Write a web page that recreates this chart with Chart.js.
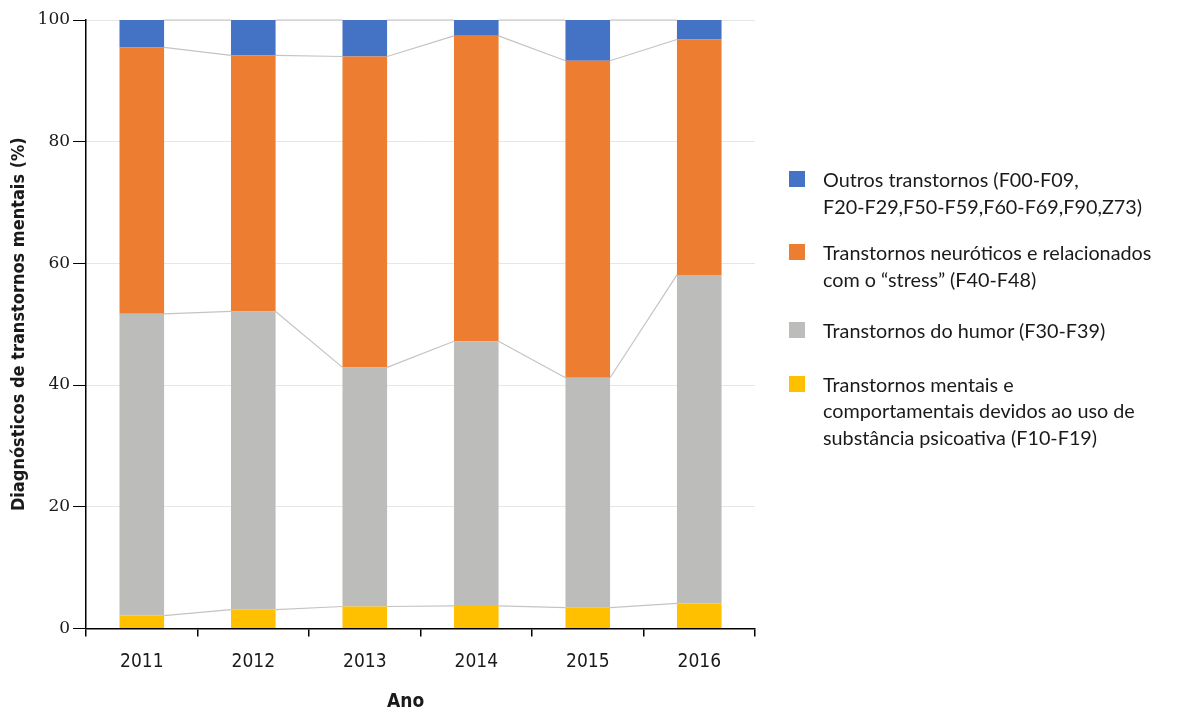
<!DOCTYPE html>
<html><head><meta charset="utf-8">
<script src="https://cdn.jsdelivr.net/npm/chart.js@4.4.1/dist/chart.umd.min.js"></script>
<style>
html,body{margin:0;padding:0;background:#fff;overflow:hidden;}
#wrap{position:relative;width:1187px;height:709px;overflow:hidden;}
#legend{position:absolute;left:789px;top:166px;font-family:'Lato','Noto Sans',sans-serif;font-size:19.8px;color:#1a1a1a;line-height:26.5px;}
.item{position:relative;padding-left:34px;}
.sw{position:absolute;left:0;top:5px;width:16px;height:16px;}
</style></head>
<body>
<div id="wrap"><canvas id="c" width="1187" height="735"></canvas><div id="legend"></div></div>
<script>
const categories = ['2011','2012','2013','2014','2015','2016'];
const substancia = [2.1, 3.1, 3.6, 3.7, 3.4, 4.1];
const humor = [49.6, 49.0, 39.3, 43.5, 37.8, 54.0];
const neuroticos = [43.8, 42.1, 51.1, 50.2, 52.1, 38.7];
const outros = [4.5, 5.8, 6.0, 2.6, 6.7, 3.2];
const yTicks = [0, 20, 40, 60, 80, 100];
const seriesNames = [
  'Transtornos mentais e<br>comportamentais devidos ao uso de<br>substância psicoativa (F10-F19)',
  'Transtornos do humor (F30-F39)',
  'Transtornos neuróticos e relacionados<br>com o “stress” (F40-F48)',
  'Outros transtornos (F00-F09,<br>F20-F29,F50-F59,F60-F69,F90,Z73)'
];
const colors = ['#FFC000', '#BCBCBB', '#ED7D31', '#4472C4'];
const seriesData = [substancia, humor, neuroticos, outros];
const condensed = "'DejaVu Sans Condensed','Liberation Sans Narrow','Liberation Sans',sans-serif";

const seriesLines = {
  id: 'seriesLines',
  beforeDatasetsDraw(chart) {
    const ctx = chart.ctx;
    ctx.save();
    ctx.strokeStyle = '#c4c4c4';
    ctx.lineWidth = 1.2;
    chart.data.datasets.forEach((ds, di) => {
      const els = chart.getDatasetMeta(di).data;
      for (let i = 0; i < els.length - 1; i++) {
        const a = els[i], b = els[i + 1];
        ctx.beginPath();
        ctx.moveTo(a.x + a.width / 2, a.y);
        ctx.lineTo(b.x - b.width / 2, b.y);
        ctx.stroke();
      }
    });
    ctx.restore();
  }
};

new Chart(document.getElementById('c'), {
  type: 'bar',
  data: {
    labels: categories,
    datasets: seriesData.map((d, i) => ({
      label: seriesNames[i], data: d, backgroundColor: colors[i],
      borderWidth: 0, categoryPercentage: 1, barPercentage: 0.4
    }))
  },
  options: {
    responsive: false, animation: false,
    layout: { padding: { left: 9, right: 432, top: 20, bottom: 22 } },
    plugins: { legend: { display: false }, tooltip: { enabled: false } },
    scales: {
      x: {
        stacked: true,
        border: { color: '#000', width: 1.5 },
        grid: { offset: true, drawOnChartArea: false, color: '#000', tickLength: 8, lineWidth: 1.5 },
        ticks: { color: '#1a1a1a', font: { family: condensed, size: 19 }, padding: 14 },
        title: { display: true, text: 'Ano     ', color: '#1a1a1a', font: { family: condensed, size: 19, weight: 'bold' }, padding: { top: 3, bottom: 0 } }
      },
      y: {
        stacked: true, min: 0, max: 100,
        afterBuildTicks: (s) => { s.ticks = yTicks.map(v => ({ value: v })); },
        border: { color: '#000', width: 1.5 },
        grid: { color: '#e6e6e6', tickColor: '#000', tickLength: 13, lineWidth: 1 },
        ticks: { color: '#1a1a1a', font: { family: "'DejaVu Serif','Liberation Serif',serif", size: 17 }, padding: 3 },
        title: { display: true, text: 'Diagnósticos de transtornos mentais (%)', color: '#1a1a1a', font: { family: condensed, size: 18, weight: 'bold' }, padding: { top: 0, bottom: 4 } }
      }
    }
  },
  plugins: [seriesLines]
});

const gaps = [20, 25, 27, 0];
const lg = document.getElementById('legend');
for (let i = seriesNames.length - 1, k = 0; i >= 0; i--, k++) {
  const it = document.createElement('div');
  it.className = 'item';
  it.style.marginBottom = gaps[k] + 'px';
  it.innerHTML = '<span class="sw" style="background:' + colors[i] + '"></span>' + seriesNames[i];
  lg.appendChild(it);
}
</script>
</body></html>
